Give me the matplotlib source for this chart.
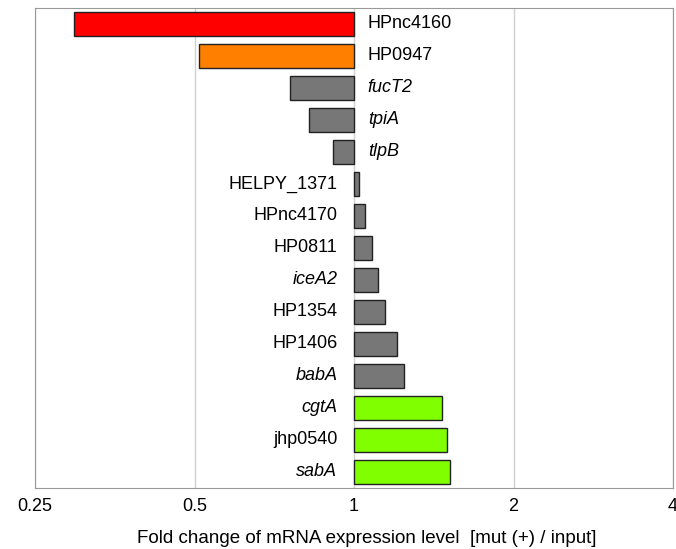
import numpy as np
import matplotlib
matplotlib.use("Agg")
import matplotlib.pyplot as plt

plt.rcParams['font.family'] = ['Liberation Sans', 'DejaVu Sans']

# --- data (fold change, top to bottom)
genes = ["HPnc4160", "HP0947", "fucT2", "tpiA", "tlpB", "HELPY_1371", "HPnc4170",
         "HP0811", "iceA2", "HP1354", "HP1406", "babA", "cgtA", "jhp0540", "sabA"]
fold = [0.296, 0.509, 0.756, 0.822, 0.913, 1.02, 1.048,
        1.08, 1.11, 1.146, 1.206, 1.245, 1.463, 1.50, 1.52]
italic = ["fucT2", "tpiA", "tlpB", "iceA2", "babA", "cgtA", "sabA"]
colors = ["#ff0000", "#ff8000"] + ["#777777"] * 10 + ["#80ff00"] * 3
xticks = [0.25, 0.5, 1, 2, 4]

fig = plt.figure(figsize=(6.76, 5.49), dpi=100)
ax = fig.add_axes([35 / 676, 61 / 549, 638 / 676, 480 / 549])

y = np.arange(len(genes))
log_fold = np.log2(fold)
ax.barh(y, log_fold, left=0, height=0.75, color=colors,
        edgecolor="#222222", linewidth=1, zorder=3)

for yi, g, v in zip(y, genes, log_fold):
    style = "italic" if g in italic else "normal"
    if v < 0:
        ax.annotate(g, (0, yi), xytext=(10, 0), textcoords="offset points",
                    ha="left", va="center", fontsize=13, style=style)
    else:
        ax.annotate(g, (0, yi), xytext=(-12, 0), textcoords="offset points",
                    ha="right", va="center", fontsize=13, style=style)

ax.set_xlim(-2, 2)
ax.set_ylim(14.5, -0.5)
ax.set_xticks(np.log2(xticks))
ax.set_xticklabels([str(t) for t in xticks], fontsize=13)
ax.set_yticks([])
ax.tick_params(axis="x", length=0, pad=7)
ax.grid(axis="x", color="#d0d0d0", linewidth=1, zorder=0)
for s in ax.spines.values():
    s.set_color("#999999")
ax.set_xlabel("Fold change of mRNA expression level  [mut (+) / input]",
              fontsize=13.5, labelpad=11)
ax.xaxis.label.set_x(0.52)

fig.savefig("out.png", dpi=100)
